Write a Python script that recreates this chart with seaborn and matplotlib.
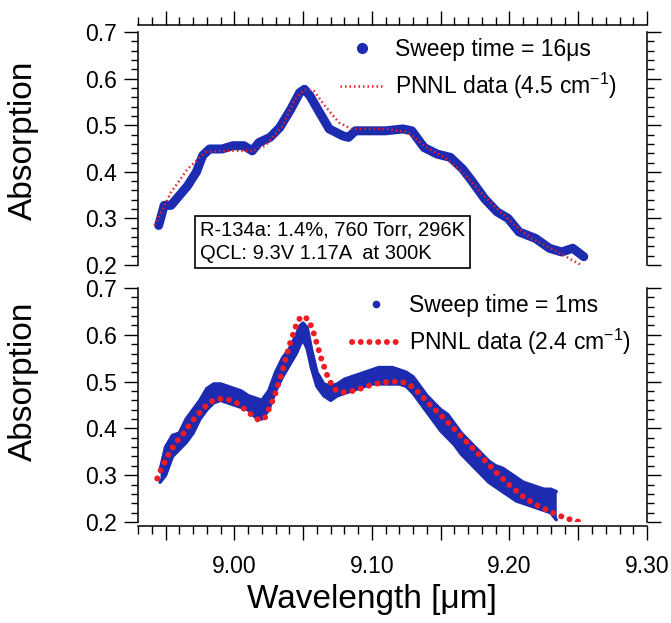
import numpy as np
import pandas as pd
import seaborn as sns
import matplotlib.pyplot as plt
from matplotlib.lines import Line2D
from matplotlib.ticker import MultipleLocator, FuncFormatter

# ---- data ----
# top panel, sweep time 16 us (blue)
wl_16us = [8.945, 8.949, 8.954, 8.958, 8.966, 8.9725, 8.977, 8.982, 8.991, 8.999,
           9.007, 9.013, 9.018, 9.026, 9.033, 9.041, 9.0475, 9.051, 9.055, 9.062,
           9.069, 9.079, 9.083, 9.088, 9.100, 9.110, 9.1225, 9.129, 9.138, 9.1475,
           9.157, 9.166, 9.1725, 9.182, 9.191, 9.199, 9.207, 9.219, 9.229, 9.238,
           9.246, 9.254]
abs_16us = [0.285, 0.328, 0.328, 0.342, 0.370, 0.400, 0.435, 0.449, 0.449, 0.456,
            0.456, 0.445, 0.463, 0.474, 0.495, 0.534, 0.570, 0.577, 0.563, 0.527,
            0.492, 0.477, 0.474, 0.488, 0.488, 0.488, 0.492, 0.488, 0.452, 0.438,
            0.431, 0.406, 0.381, 0.342, 0.314, 0.300, 0.271, 0.257, 0.236, 0.228,
            0.236, 0.218]

# top panel, PNNL 4.5 cm-1 (red dotted)
wl_pnnl45 = [8.942, 8.954, 8.966, 8.979, 8.991, 9.013, 9.0225, 9.035, 9.044, 9.051,
             9.058, 9.066, 9.076, 9.085, 9.110, 9.126, 9.138, 9.154, 9.166, 9.179,
             9.191, 9.204, 9.216, 9.235, 9.252]
abs_pnnl45 = [0.285, 0.356, 0.406, 0.442, 0.445, 0.445, 0.456, 0.498, 0.555, 0.577,
              0.573, 0.541, 0.506, 0.492, 0.492, 0.485, 0.456, 0.428, 0.399, 0.356,
              0.321, 0.285, 0.257, 0.228, 0.200]

# bottom panel, sweep time 1 ms (blue, noisy band: upper / lower edge)
wl_1ms = [8.946, 8.950, 8.955, 8.960, 8.965, 8.970, 8.975, 8.980, 8.985, 8.990,
          8.995, 9.000, 9.005, 9.010, 9.015, 9.020, 9.025, 9.030, 9.035, 9.040,
          9.045, 9.048, 9.050, 9.053, 9.056, 9.060, 9.065, 9.070, 9.075, 9.080,
          9.085, 9.090, 9.095, 9.100, 9.105, 9.110, 9.115, 9.120, 9.125, 9.130,
          9.135, 9.140, 9.145, 9.150, 9.155, 9.160, 9.165, 9.170, 9.175, 9.180,
          9.185, 9.190, 9.195, 9.200, 9.205, 9.210, 9.215, 9.220, 9.225, 9.230,
          9.234]
abs_1ms_hi = [0.310, 0.360, 0.385, 0.390, 0.420, 0.440, 0.460, 0.485, 0.495, 0.495,
              0.490, 0.485, 0.480, 0.470, 0.465, 0.460, 0.480, 0.520, 0.550, 0.570,
              0.600, 0.620, 0.625, 0.615, 0.570, 0.520, 0.495, 0.490, 0.495, 0.505,
              0.510, 0.515, 0.520, 0.525, 0.530, 0.530, 0.530, 0.525, 0.520, 0.510,
              0.490, 0.470, 0.455, 0.440, 0.430, 0.410, 0.390, 0.375, 0.360, 0.345,
              0.330, 0.320, 0.315, 0.305, 0.295, 0.285, 0.280, 0.275, 0.270, 0.270,
              0.265]
abs_1ms_lo = [0.285, 0.300, 0.340, 0.355, 0.370, 0.390, 0.420, 0.440, 0.455, 0.460,
              0.455, 0.450, 0.445, 0.440, 0.425, 0.420, 0.440, 0.480, 0.510, 0.535,
              0.560, 0.580, 0.590, 0.570, 0.530, 0.490, 0.470, 0.460, 0.470, 0.475,
              0.480, 0.485, 0.490, 0.495, 0.495, 0.495, 0.495, 0.495, 0.490, 0.475,
              0.455, 0.435, 0.415, 0.395, 0.380, 0.365, 0.345, 0.330, 0.315, 0.300,
              0.285, 0.275, 0.265, 0.255, 0.245, 0.240, 0.235, 0.230, 0.225, 0.220,
              0.205]

# bottom panel, PNNL 2.4 cm-1 (red dots)
wl_pnnl24 = [8.944, 8.9475, 8.952, 8.957, 8.963, 8.969, 8.976, 8.982, 8.988, 8.994,
             9.001, 9.007, 9.013, 9.018, 9.0225, 9.029, 9.035, 9.041, 9.046, 9.049,
             9.054, 9.058, 9.063, 9.068, 9.0725, 9.079, 9.088, 9.0975, 9.107, 9.116,
             9.124, 9.130, 9.137, 9.144, 9.154, 9.163, 9.1725, 9.182, 9.191, 9.200,
             9.210, 9.219, 9.232, 9.241, 9.251]
abs_pnnl24 = [0.293, 0.318, 0.343, 0.368, 0.389, 0.414, 0.438, 0.456, 0.463, 0.463,
              0.456, 0.442, 0.428, 0.417, 0.424, 0.467, 0.523, 0.587, 0.629, 0.640,
              0.633, 0.601, 0.551, 0.509, 0.484, 0.477, 0.481, 0.491, 0.498, 0.500,
              0.498, 0.488, 0.467, 0.445, 0.417, 0.389, 0.360, 0.332, 0.304, 0.279,
              0.254, 0.237, 0.219, 0.208, 0.200]

label_16us = "Sweep time = 16μs"
label_pnnl45 = "PNNL data (4.5 cm$^{-1}$)"
label_1ms = "Sweep time = 1ms"
label_pnnl24 = "PNNL data (2.4 cm$^{-1}$)"
box_text = "R-134a: 1.4%, 760 Torr, 296K\nQCL: 9.3V 1.17A  at 300K"

blue = "#1c2bb0"
red = "#ee1c24"

sns.set_style("ticks")
plt.rcParams["font.family"] = ["Liberation Sans", "DejaVu Sans"]
plt.rcParams["mathtext.default"] = "regular"
for k in ["text.color", "axes.labelcolor", "xtick.color", "ytick.color", "axes.edgecolor"]:
    plt.rcParams[k] = "black"

fig = plt.figure(figsize=(6.71, 6.23), dpi=100)
ax1 = fig.add_axes([0.2057, 0.5746, 0.7586, 0.374])
ax2 = fig.add_axes([0.2057, 0.1621, 0.7586, 0.3756])

# top panel
sns.lineplot(x=wl_16us, y=abs_16us, ax=ax1, color=blue, lw=6.5, sort=False,
             estimator=None, solid_capstyle="round", solid_joinstyle="round")
sns.lineplot(x=wl_pnnl45, y=abs_pnnl45, ax=ax1, color=red, lw=1.8, sort=False,
             estimator=None, linestyle=(0, (0.6, 1.2)))

# bottom panel
ax2.fill_between(wl_1ms, abs_1ms_lo, abs_1ms_hi, color=blue, lw=0)
sns.lineplot(x=wl_1ms, y=abs_1ms_hi, ax=ax2, color=blue, lw=2.5, sort=False,
             estimator=None)
sns.lineplot(x=wl_1ms, y=abs_1ms_lo, ax=ax2, color=blue, lw=2.5, sort=False,
             estimator=None)
sns.lineplot(x=wl_pnnl24, y=abs_pnnl24, ax=ax2, color=red, lw=4.3, sort=False,
             estimator=None, linestyle=(0, (0.01, 1.45)), dash_capstyle="round")

for ax in (ax1, ax2):
    ax.set_xlim(8.93, 9.30)
    ax.set_ylim(0.2, 0.7)
    ax.xaxis.set_major_locator(MultipleLocator(0.05))
    ax.xaxis.set_minor_locator(MultipleLocator(0.01))
    ax.yaxis.set_major_locator(MultipleLocator(0.1))
    ax.yaxis.set_minor_locator(MultipleLocator(0.02))
    ax.yaxis.set_major_formatter(FuncFormatter(lambda v, p: f"{v:.1f}"))
    ax.tick_params(axis="y", which="both", direction="out", left=True, right=True,
                   labelleft=True, labelright=False, labelsize=16.5, pad=5, width=1)
    ax.tick_params(axis="y", which="major", length=10)
    ax.tick_params(axis="y", which="minor", length=5)
    for s in ax.spines.values():
        s.set_linewidth(1.1)
    ax.set_ylabel("Absorption", fontsize=24)

# top panel x axis on top, offset
ax1.spines["bottom"].set_visible(False)
ax1.spines["top"].set_position(("outward", 5))
ax1.tick_params(axis="x", which="both", direction="out", top=True, bottom=False,
                labeltop=False, labelbottom=False, width=1)
ax1.tick_params(axis="x", which="major", length=10)
ax1.tick_params(axis="x", which="minor", length=5.5)

# bottom panel x axis
ax2.spines["top"].set_visible(False)
ax2.spines["bottom"].set_position(("outward", 3))
ax2.xaxis.set_major_formatter(
    FuncFormatter(lambda v, p: f"{v:.2f}" if abs(v * 10 - round(v * 10)) < 1e-6 else ""))
ax2.tick_params(axis="x", which="both", direction="out", top=False, bottom=True,
                labelsize=16.5, pad=11, width=1)
ax2.tick_params(axis="x", which="major", length=10)
ax2.tick_params(axis="x", which="minor", length=5.5)
ax2.set_xlabel("Wavelength [μm]", fontsize=24)
ax2.xaxis.set_label_coords(0.46, -0.265)

ax1.yaxis.set_label_coords(-0.195, 0.536)
ax2.yaxis.set_label_coords(-0.195, 0.60)

# legends
h1 = [Line2D([], [], color=blue, marker="o", ls="none", ms=7),
      Line2D([], [], color=red, lw=1.8, ls=(0, (0.6, 1.2)))]
ax1.legend(h1, [label_16us, label_pnnl45], loc="upper left", bbox_to_anchor=(0.397, 0.975),
           frameon=False, fontsize=16.5, handlelength=1.9, handletextpad=0.5,
           labelspacing=0.45, borderpad=0, borderaxespad=0)
h2 = [Line2D([], [], color=blue, marker="o", ls="none", ms=4.5),
      Line2D([], [], color=red, lw=4.3, ls=(0, (0.01, 1.45)), dash_capstyle="round")]
ax2.legend(h2, [label_1ms, label_pnnl24], loc="upper left", bbox_to_anchor=(0.42, 0.975),
           frameon=False, fontsize=16.5, handlelength=2.1, handletextpad=0.4,
           labelspacing=0.45, borderpad=0, borderaxespad=0)

ax1.text(0.122, 0.19, box_text, transform=ax1.transAxes, fontsize=14.5, va="top",
         ha="left", linespacing=1.3, clip_on=False, zorder=5,
         bbox=dict(boxstyle="square,pad=0.25", fc="white", ec="black", lw=1.2))

fig.savefig("out.png", dpi=100)
